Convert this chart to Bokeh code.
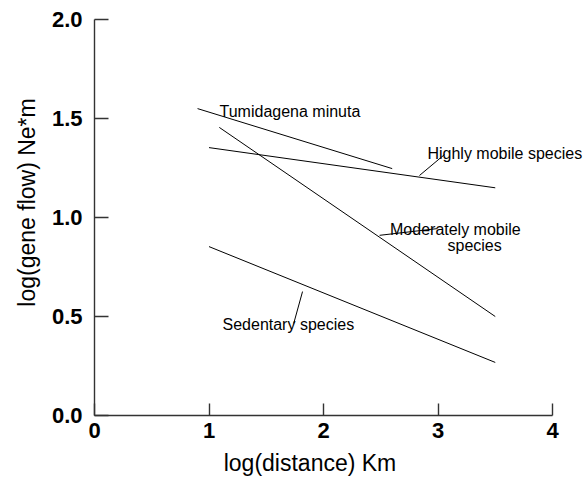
import math
from bokeh.plotting import figure
from bokeh.models import Range1d, FixedTicker, Label, LinearAxis
from bokeh.embed import file_html
from bokeh.resources import INLINE

# ---- data ----
species = ["Tumidagena minuta", "Highly mobile species",
           "Moderately mobile species", "Sedentary species"]
x_start = [0.90, 1.00, 1.09, 1.00]
y_start = [1.55, 1.353, 1.455, 0.853]
x_end = [2.60, 3.50, 3.50, 3.50]
y_end = [1.247, 1.15, 0.50, 0.268]

# leader lines from labels to the regression lines
leader_x0 = [2.838, 2.49, 1.74]
leader_y0 = [1.212, 0.91, 0.465]
leader_x1 = [3.057, 2.996, 1.817]
leader_y1 = [1.318, 0.944, 0.626]

label_text = ["Tumidagena minuta", "Highly mobile species",
              "Moderately mobile", "species", "Sedentary species"]
label_x = [1.092, 2.908, 2.581, 3.083, 1.118]
label_y = [1.535, 1.325, 0.939, 0.858, 0.46]

x_ticks = [0, 1, 2, 3, 4]
x_tick_labels = ["0", "1", "2", "3", "4"]
y_ticks = [0.0, 0.5, 1.0, 1.5, 2.0]
y_tick_labels = ["0.0", "0.5", "1.0", "1.5", "2.0"]

x_title = "log(distance) Km"
y_title = "log(gene flow) Ne*m"

FONT = "Liberation Sans"
AXIS_COLOR = "#333333"

W, H = 587, 479
# plot area of the reference, in pixels
PX_LEFT, PX_RIGHT, PX_TOP, PX_BOTTOM = 94, 552, 19, 415
x0, x1 = x_ticks[0], x_ticks[-1]
y0, y1 = y_ticks[0], y_ticks[-1]
sx = (PX_RIGHT - PX_LEFT) / (x1 - x0)
sy = (PX_BOTTOM - PX_TOP) / (y1 - y0)
xr = Range1d(x0 - PX_LEFT / sx, x1 + (W - PX_RIGHT) / sx)
yr = Range1d(y0 - (H - PX_BOTTOM) / sy, y1 + PX_TOP / sy)

p = figure(width=W, height=H, output_backend="svg", toolbar_location=None,
           x_range=xr, y_range=yr, x_axis_location=None, y_axis_location=None,
           min_border=0)
p.outline_line_color = None
p.grid.visible = False
p.background_fill_color = "white"
p.border_fill_color = "white"

xaxis = LinearAxis(fixed_location=y0, bounds=(x0, x1))
yaxis = LinearAxis(fixed_location=x0, bounds=(y0, y1))
p.add_layout(xaxis, "below")
p.add_layout(yaxis, "left")

for ax, ticks, labels, tin in ((xaxis, x_ticks, x_tick_labels, 12),
                               (yaxis, y_ticks, y_tick_labels, 14)):
    ax.ticker = FixedTicker(ticks=ticks)
    ax.major_label_overrides = {t: l for t, l in zip(ticks, labels)}
    ax.major_tick_in = tin
    ax.major_tick_out = 0
    ax.minor_tick_line_color = None
    ax.axis_line_color = AXIS_COLOR
    ax.axis_line_width = 1.4
    ax.major_tick_line_color = AXIS_COLOR
    ax.major_tick_line_width = 1.4
    ax.major_label_text_font = FONT
    ax.major_label_text_font_style = "bold"
    ax.major_label_text_font_size = "22px"
    ax.major_label_text_color = "black"

xaxis.major_label_standoff = 7
yaxis.major_label_standoff = 12

p.segment(x0=x_start, y0=y_start, x1=x_end, y1=y_end,
          line_color="black", line_width=1)
p.segment(x0=leader_x0, y0=leader_y0, x1=leader_x1, y1=leader_y1,
          line_color="black", line_width=1)

for t, x, y in zip(label_text, label_x, label_y):
    p.add_layout(Label(x=x, y=y, text=t, text_font=FONT, text_font_size="16px",
                       text_align="left", text_baseline="alphabetic",
                       text_color="black"))

p.add_layout(Label(x=1.882, y=-0.242, text=x_title, text_font=FONT,
                   text_font_size="23px", text_align="center",
                   text_baseline="alphabetic", text_color="black"))
p.add_layout(Label(x=-0.59, y=1.076, text=y_title, text_font=FONT,
                   text_font_size="23px", text_align="center",
                   text_baseline="alphabetic", text_color="black",
                   angle=math.pi / 2))

open("out.html", "w").write(file_html(p, INLINE))
